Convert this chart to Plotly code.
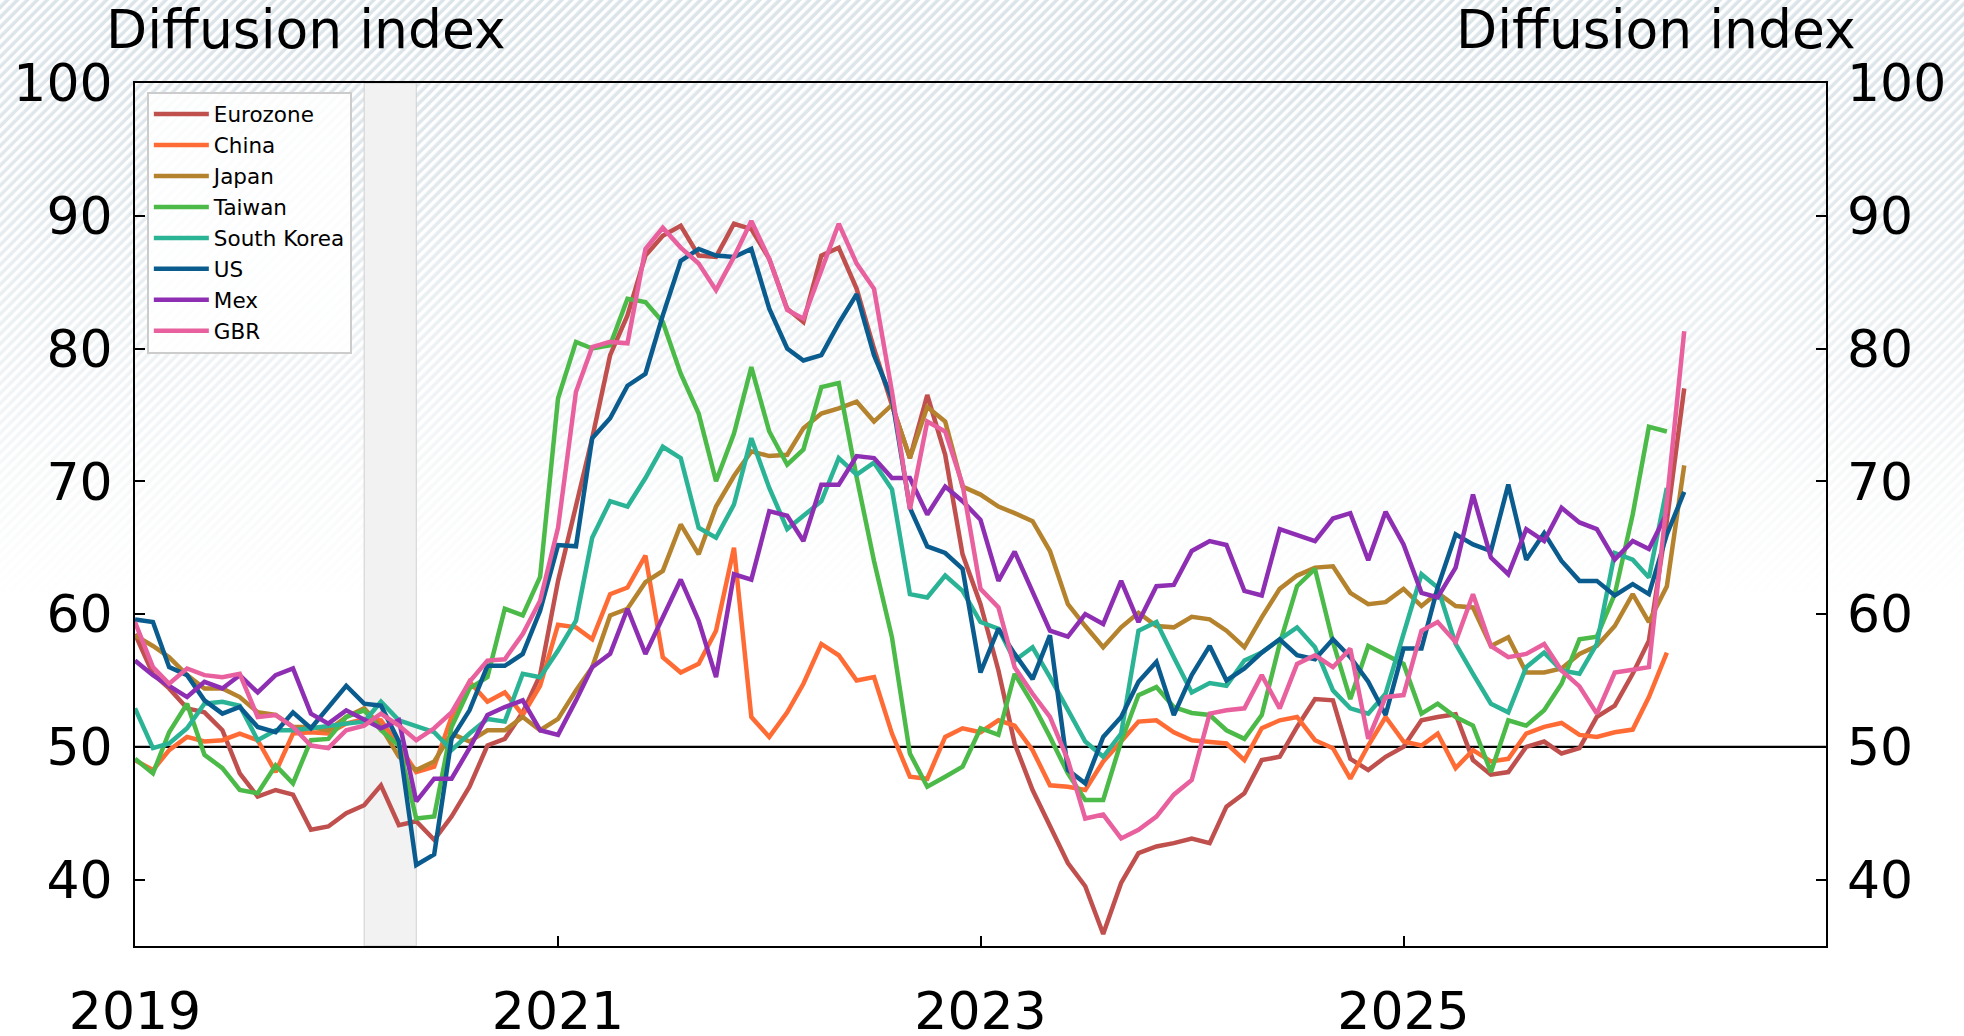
import base64
import pandas as pd
import plotly.graph_objects as go

# monthly diffusion indices, starting Jan 2019
eurozone = [58.5, 55.5, 54.4, 52.9, 52.6, 51.25, 48, 46.25, 46.75, 46.4,
            43.75, 44, 45, 45.6, 47.1, 44.1, 44.4, 43, 44.75, 47,
            50.1, 50.6, 52.6, 55.4, 62.5, 68, 73.25, 79.5, 82.5, 87,
            88.5, 89.25, 87, 86.9, 89.4, 89, 86.75, 83, 82, 87,
            87.6, 84.5, 80, 75.75, 71.75, 76.5, 72, 64.5, 60.75, 55.75,
            50.25, 46.75, 44, 41.25, 39.5, 35.9, 39.75, 42, 42.5, 42.75,
            43.1, 42.75, 45.5, 46.5, 49, 49.25, 51.5, 53.6, 53.5, 49.1,
            48.25, 49.25, 50, 52, 52.25, 52.45, 49, 47.9, 48.1, 50,
            50.4, 49.5, 49.9, 52.25, 53.1, 55.5, 58, 67, 77]
china = [49, 48.25, 49.75, 50.75, 50.4, 50.5, 51, 50.5, 48.1, 51,
         51.1, 51, 51.75, 52.1, 52, 50.1, 48.1, 48.5, 52.25, 54.9,
         53.4, 54.1, 52.4, 54.6, 59.2, 59, 58.1, 61.5, 62, 64.4,
         56.75, 55.6, 56.25, 58.75, 65, 52.25, 50.75, 52.6, 54.75, 57.75,
         56.9, 55, 55.25, 51, 47.75, 47.6, 50.75, 51.4, 51.1, 52,
         51.6, 49.75, 47.1, 47, 46.75, 48.9, 50.4, 51.9, 52, 51.1,
         50.5, 50.4, 50.25, 49, 51.4, 52, 52.25, 50.5, 49.9, 47.6,
         50.1, 52.25, 50.4, 50.1, 51, 48.4, 49.75, 48.9, 49.1, 51,
         51.5, 51.8, 50.9, 50.75, 51.1, 51.3, 53.75, 57.1]
japan = [58.4, 57.6, 56.75, 55.4, 54.4, 54.4, 53.75, 52.6, 52.4, 51.5,
         51.5, 51.25, 52.25, 52.9, 51.5, 49.25, 48.25, 48.9, 51, 50.4,
         51.25, 51.25, 52.25, 51.25, 52.1, 54.25, 56, 59.9, 60.4, 62.4,
         63.25, 66.75, 64.5, 68.1, 70.4, 72.25, 71.9, 72, 74, 75.1,
         75.5, 76, 74.5, 75.75, 71.75, 75.6, 74.5, 69.6, 69, 68.1,
         67.6, 67, 64.75, 60.75, 59.1, 57.5, 59, 60.1, 59.1, 59,
         59.8, 59.6, 58.75, 57.5, 59.75, 61.9, 62.9, 63.5, 63.6, 61.6,
         60.75, 60.9, 61.9, 60.6, 61.6, 60.6, 60.5, 57.6, 58.25, 55.6,
         55.6, 55.9, 57, 57.6, 59.1, 61.5, 59.4, 62.1, 71.2]
taiwan = [49.1, 48, 51.1, 53.25, 49.4, 48.4, 46.75, 46.5, 48.6, 47.25,
          50.5, 50.6, 52.25, 52.75, 51.25, 50.1, 44.6, 44.75, 51.5, 54.4,
          55.25, 60.4, 59.9, 62.8, 76.25, 80.5, 80, 80.25, 83.75, 83.5,
          82, 78.1, 75.1, 70, 73.6, 78.6, 73.75, 71.25, 72.4, 77.1,
          77.4, 70.3, 64, 58.25, 49.5, 47, 47.75, 48.5, 51.4, 50.9,
          55.5, 53.25, 50.75, 48, 46, 46, 50.4, 53.9, 54.5, 53,
          52.55, 52.4, 51.25, 50.6, 52.4, 57.75, 62.1, 63.4, 57.9, 53.6,
          57.6, 56.9, 56.25, 52.5, 53.25, 52.25, 51.6, 48.1, 52, 51.6,
          52.75, 54.75, 58.1, 58.3, 61.5, 67.5, 74.1, 73.75]
south_korea = [52.9, 49.9, 50.25, 51.4, 53.25, 53.4, 53.1, 50.5, 51.25, 51.25,
               51.4, 51.6, 51.75, 51.9, 53.4, 52, 51.6, 51.1, 49.75, 51,
               52.1, 51.9, 55.5, 55.25, 57.25, 59.5, 65.75, 68.5, 68.1, 70.25,
               72.6, 71.75, 66.5, 65.75, 68.25, 73.25, 69.5, 66.4, 67.4, 68.5,
               71.75, 70.5, 71.4, 69.4, 61.5, 61.25, 62.9, 61.75, 59.4, 58.9,
               56.5, 57.5, 55.25, 52.75, 50.4, 49.25, 51, 58.75, 59.4, 56.75,
               54.1, 54.8, 54.6, 56.5, 57.1, 58.1, 59, 57.5, 54.25, 52.9,
               52.5, 54, 58.5, 63, 62, 57.75, 55.5, 53.25, 52.6, 56,
               57.1, 55.75, 55.5, 57.75, 64.6, 64.1, 62.75, 69.5]
us = [59.6, 59.4, 56, 55.4, 53.5, 52.5, 53, 51.5, 51.1, 52.6,
      51.4, 53, 54.6, 53.25, 53.1, 50.4, 41.1, 41.9, 50.6, 52.75,
      56.1, 56.1, 57, 60.25, 65.2, 65.1, 73.25, 74.75, 77.2, 78.1,
      82.5, 86.6, 87.5, 87, 86.9, 87.5, 83, 80, 79.1, 79.5,
      81.9, 84.1, 79.5, 76.25, 68, 65.1, 64.6, 63.4, 55.6, 58.9,
      57, 55.1, 58.4, 48.25, 47.25, 50.75, 52.25, 54.9, 56.4, 52.4,
      55.4, 57.6, 55, 55.9, 57.1, 58.1, 56.9, 56.6, 58.1, 56.75,
      54.9, 52.4, 57.4, 57.4, 62, 66, 65.25, 64.75, 69.75, 64.1,
      66.1, 64, 62.5, 62.5, 61.4, 62.25, 61.5, 66, 69.2]
mex = [56.5, 55.4, 54.6, 53.75, 54.9, 54.4, 55.4, 54.1, 55.4, 55.9,
       52.5, 51.75, 52.75, 52.1, 51.4, 52, 45.9, 47.6, 47.6, 49.9,
       52.4, 53, 53.5, 51.25, 50.9, 53.5, 56, 57, 60.4, 57,
       59.8, 62.6, 59.5, 55.25, 63, 62.6, 67.75, 67.4, 65.5, 69.75,
       69.75, 71.9, 71.75, 70.25, 70.25, 67.5, 69.6, 68.5, 67.1, 62.5,
       64.7, 61.75, 58.75, 58.3, 60, 59.25, 62.5, 59.4, 62.1, 62.2,
       64.75, 65.5, 65.2, 61.75, 61.4, 66.4, 65.95, 65.5, 67.2, 67.6,
       64.05, 67.7, 65.25, 61.6, 61.25, 63.5, 69, 64.25, 63, 66.4,
       65.5, 68, 66.9, 66.4, 64.1, 65.5, 64.9, 67.6]
gbr = [59.4, 56, 54.75, 55.9, 55.4, 55.25, 55.5, 52.25, 52.4, 51.5,
       50.1, 49.9, 51.25, 51.6, 52.5, 51.6, 50.5, 51.4, 52.6, 54.9,
       56.5, 56.6, 58.5, 61, 66.5, 76.75, 80.1, 80.5, 80.4, 87.5,
       89.1, 87.6, 86.4, 84.4, 86.9, 89.6, 86.75, 82.9, 82.25, 85.9,
       89.4, 86.4, 84.5, 76.75, 67.9, 74.5, 73.75, 69.75, 61.9, 60.5,
       56, 54, 52.25, 49, 44.6, 44.9, 43.1, 43.75, 44.75, 46.4,
       47.5, 52.5, 52.75, 52.9, 55.4, 52.9, 56.25, 56.9, 56, 57.4,
       50.6, 53.75, 53.9, 58.75, 59.4, 57.9, 61.5, 57.6, 56.75, 57,
       57.75, 55.75, 54.55, 52.5, 55.6, 55.8, 56, 68.5, 81.3]

series = [
    ("Eurozone", eurozone, "#c0504d"),
    ("China", china, "#ff6b35"),
    ("Japan", japan, "#b5832d"),
    ("Taiwan", taiwan, "#4cba48"),
    ("South Korea", south_korea, "#2bb395"),
    ("US", us, "#0b5c8e"),
    ("Mex", mex, "#8e2fb3"),
    ("GBR", gbr, "#e8609e"),
]

tick_years = ["2019", "2021", "2023", "2025"]
y_ticks = [40, 50, 60, 70, 80, 90, 100]
recession = ("2020-02-01", "2020-05-01")

FONT = "DejaVu Sans"
W, H = 1964, 1036
L, R, T, B = 135, 138, 83, 90
pw, ph = W - L - R, H - T - B

fig = go.Figure()
for name, vals, color in series:
    dates = pd.date_range("2019-01-01", periods=len(vals), freq="MS")
    fig.add_trace(go.Scatter(x=dates, y=vals, name=name, mode="lines",
                             line=dict(color=color, width=4.5)))

# dummy trace so the right-hand label axis is drawn
fig.add_trace(go.Scatter(x=["2019-01-01"], y=[None], yaxis="y2",
                         showlegend=False, hoverinfo="skip"))

# hatched background that fades to white
svg = f"""<svg xmlns='http://www.w3.org/2000/svg' width='{W}' height='{H}'>
<defs>
<pattern id='h' width='7' height='7' patternUnits='userSpaceOnUse' patternTransform='rotate(45)'>
<rect width='7' height='7' fill='#dbe4e9'/><rect width='3.5' height='7' fill='#ffffff'/>
</pattern>
<linearGradient id='g' x1='0' y1='0' x2='0' y2='1'>
<stop offset='0' stop-color='#ffffff' stop-opacity='0'/>
<stop offset='0.15' stop-color='#ffffff' stop-opacity='0.15'/>
<stop offset='0.58' stop-color='#ffffff' stop-opacity='1'/>
</linearGradient>
</defs>
<rect width='{W}' height='{H}' fill='url(#h)'/>
<rect width='{W}' height='{H}' fill='url(#g)'/>
</svg>"""
src = "data:image/svg+xml;base64," + base64.b64encode(svg.encode()).decode()
fig.add_layout_image(dict(source=src, xref="paper", yref="paper",
                          x=-L / pw, y=1 + T / ph, sizex=W / pw, sizey=H / ph,
                          xanchor="left", yanchor="top", sizing="stretch",
                          layer="below"))

fig.add_shape(type="rect", xref="x", yref="paper", x0=recession[0], x1=recession[1],
              y0=0, y1=1, fillcolor="#f2f2f2", line=dict(color="#d0d0d0", width=1),
              layer="below")
fig.add_shape(type="line", xref="paper", yref="y", x0=0, x1=1, y0=50, y1=50,
              line=dict(color="black", width=2.2), layer="below")

for xpos, anchor in [(-31 / pw, "left"), (1 + 32 / pw, "right")]:
    fig.add_annotation(text="Diffusion index", xref="paper", yref="paper",
                       x=xpos, y=1 + 53 / ph, xanchor=anchor, yanchor="middle",
                       showarrow=False, font=dict(family=FONT, size=53.5, color="black"))

fig.update_layout(
    width=W, height=H,
    margin=dict(l=L, r=R, t=T, b=B),
    paper_bgcolor="white", plot_bgcolor="rgba(0,0,0,0)",
    font=dict(family=FONT, color="black"),
    showlegend=True,
    legend=dict(x=0.007, y=0.99, xanchor="left", yanchor="top",
                bgcolor="rgba(255,255,255,0.85)", bordercolor="#cccccc", borderwidth=2,
                itemwidth=55,
                font=dict(family=FONT, size=21.5, color="black")),
    xaxis=dict(type="date", range=["2019-01-01", "2027-01-01"],
               tickvals=[f"{y}-01-01" for y in tick_years], ticktext=tick_years,
               ticks="inside", ticklen=10, tickwidth=1.5, tickcolor="black",
               showline=True, linecolor="black", linewidth=2.2, mirror=True,
               showgrid=False, zeroline=False, ticklabelstandoff=18,
               tickfont=dict(family=FONT, size=52), automargin=False),
    yaxis=dict(range=[35, 100], tickvals=y_ticks,
               ticks="inside", ticklen=10, tickwidth=1.5, tickcolor="black",
               showline=True, linecolor="black", linewidth=2, mirror="ticks",
               showgrid=False, zeroline=False, ticklabelstandoff=10,
               tickfont=dict(family=FONT, size=52), automargin=False),
    yaxis2=dict(range=[35, 100], tickvals=y_ticks, overlaying="y", side="right",
                ticks="", showline=False, showgrid=False, zeroline=False,
                ticklabelstandoff=20, tickfont=dict(family=FONT, size=52),
                automargin=False),
)

fig.write_html("out.html", config={"displayModeBar": False},
               post_script="document.body.style.margin='0';")
